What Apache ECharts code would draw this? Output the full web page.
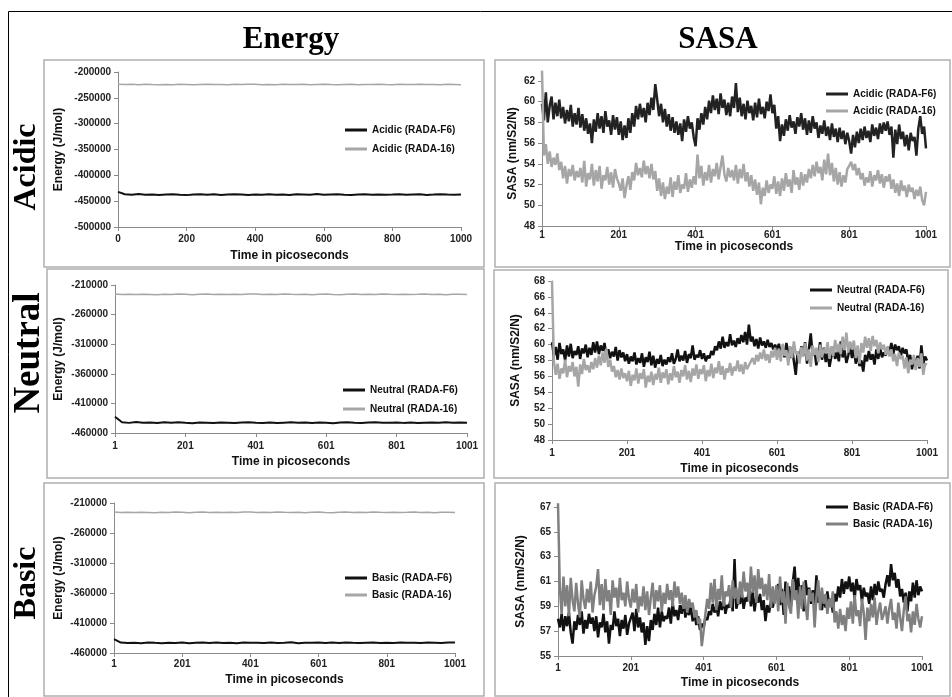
<!DOCTYPE html>
<html><head><meta charset="utf-8">
<script src="https://cdn.jsdelivr.net/npm/echarts@6/dist/echarts.min.js"></script>
<style>html,body{margin:0;padding:0;background:#fff}#c{width:952px;height:697px}</style>
</head><body><div id="c"></div>
<script>
// ---------- DATA ----------
const panelTitles = ['Energy', 'SASA'];
const rowLabels = ['Acidic', 'Neutral', 'Basic'];
const xName = 'Time in picoseconds';
const energyName = 'Energy (J/mol)';
const sasaName = 'SASA (nm/S2/N)';
const legendNames = {
  acidic: ['Acidic (RADA-F6)', 'Acidic (RADA-16)'],
  neutral: ['Neutral (RADA-F6)', 'Neutral (RADA-16)'],
  basic: ['Basic (RADA-F6)', 'Basic (RADA-16)']
};
const energyStep = 20, sasaStep = 5;
const acidicEnergyStart = 0, otherStart = 1;

const energyAcidicF6 = [-432000,-436500,-437800,-436200,-437400,-436900,-438100,-437000,-436600,-437600,-438300,-437200,-436800,-437500,-436400,-437900,-437100,-436700,-437300,-438000,-436900,-437400,-436500,-437700,-437200,-438200,-436800,-437000,-437600,-436300,-437800,-437100,-436600,-437500,-438000,-437000,-436700,-437400,-436900,-437800,-437200,-436500,-437600,-437100,-436800,-437900,-437300,-436400,-437000,-437500,-436900];
const energyAcidic16 = [-223500,-224200,-223800,-224600,-223900,-224400,-224800,-224100,-224500,-223700,-224300,-224900,-224000,-223600,-224400,-224200,-224700,-223900,-224300,-223500,-223800,-224500,-224100,-224600,-223700,-224200,-224400,-223900,-224700,-224000,-223600,-224300,-224800,-224100,-223800,-224500,-224000,-224400,-223700,-224200,-224600,-223900,-224300,-224000,-223500,-224400,-224100,-224700,-223900,-224200,-224500];
const energyNeutralF6 = [-432500,-441800,-442900,-441600,-442700,-442300,-443100,-442000,-442600,-441900,-442800,-443400,-442200,-442500,-443000,-442100,-442700,-443300,-442400,-441800,-442600,-442900,-442200,-443200,-442500,-441900,-442800,-442300,-443000,-442100,-442600,-443400,-442400,-442000,-442700,-443100,-442300,-441700,-442500,-442800,-442100,-442900,-442400,-443000,-442600,-442200,-442800,-441900,-442500,-442300,-442700];
const energyNeutral16 = [-225300,-225900,-225500,-226200,-225600,-226000,-226400,-225700,-226100,-225400,-225800,-226300,-225600,-225200,-225900,-225700,-226200,-225500,-225900,-225100,-225400,-226000,-225600,-226100,-225300,-225800,-226000,-225500,-226300,-225600,-225200,-225900,-226400,-225700,-225400,-226100,-225600,-226000,-225300,-225800,-226200,-225500,-225900,-225600,-225100,-226000,-225700,-226300,-225500,-225800,-226100];
const energyBasicF6 = [-437000,-442600,-443400,-442800,-443700,-442500,-443100,-443600,-442900,-443300,-442400,-443800,-443000,-442700,-443500,-442600,-443200,-442900,-443700,-442400,-443100,-442800,-443400,-442500,-443300,-443000,-442200,-443600,-442900,-443100,-442600,-443500,-442700,-443300,-442500,-443000,-443400,-442800,-442300,-443200,-442900,-443500,-442600,-443100,-442800,-443400,-442500,-442900,-443300,-442400,-442700];
const energyBasic16 = [-225100,-225700,-225300,-226000,-225400,-225800,-226200,-225500,-225900,-225200,-225600,-226100,-225400,-225000,-225700,-225500,-226000,-225300,-225700,-224900,-225200,-225800,-225400,-225900,-225100,-225600,-225800,-225300,-226100,-225400,-225000,-225700,-226200,-225500,-225200,-225900,-225400,-225800,-225100,-225600,-226000,-225300,-225700,-225400,-224900,-225800,-225500,-226100,-225300,-225600,-225900];

const sasaAcidicF6 = [
59.8,58.2,60.9,58.0,59.6,60.5,58.3,59.9,58.6,60.2,58.4,59.5,57.9,59.2,58.1,59.7,57.6,58.9,57.8,59.4,
57.5,58.8,57.2,58.4,56.9,57.9,56.0,58.3,57.1,58.9,57.4,58.6,57.0,59.1,57.6,58.2,56.8,58.7,57.3,58.5,
56.8,58.1,56.3,57.7,56.5,58.4,57.0,58.9,57.6,59.6,58.3,59.8,58.5,59.4,58.0,59.9,58.7,60.4,59.2,61.7,
60.2,58.6,59.8,58.0,59.3,57.6,58.8,57.2,58.5,57.0,58.1,56.8,57.9,56.2,58.3,57.1,58.6,57.4,58.0,56.6,
55.7,58.4,57.3,58.9,57.8,59.5,58.3,60.1,58.9,60.6,59.2,60.3,58.8,60.8,59.4,60.2,58.7,59.9,58.6,60.5,
59.4,61.8,59.0,60.4,58.6,59.8,58.3,60.1,58.9,59.6,58.2,59.9,58.5,60.3,58.8,59.5,58.4,60.0,59.1,60.7,
58.9,59.7,57.4,58.6,56.2,57.8,56.7,58.3,57.2,58.7,57.5,58.1,56.9,58.5,57.6,58.9,57.3,58.4,56.8,58.2,
57.0,58.6,57.4,58.0,56.5,57.7,56.9,58.2,56.7,57.6,56.3,57.9,56.6,57.4,56.1,57.5,56.4,57.2,55.9,57.0,
56.2,55.0,56.8,55.6,57.1,56.0,57.4,56.3,57.6,56.5,57.2,56.1,57.8,56.7,57.5,56.4,57.9,56.9,58.0,57.2,
58.1,56.8,57.6,54.6,57.3,55.9,57.8,56.4,57.1,55.7,56.8,55.3,57.0,56.2,56.6,54.8,57.4,58.6,56.9,57.6,
55.5];
const sasaAcidic16 = [
63.0,54.8,55.9,54.0,55.2,53.7,54.6,53.9,55.0,53.4,54.2,52.6,53.8,52.1,53.5,52.8,53.9,52.4,53.3,52.7,
53.6,52.2,54.3,51.8,53.1,52.5,54.0,51.9,53.4,52.3,53.8,51.6,52.9,52.4,53.7,52.0,53.2,51.7,53.5,52.6,
52.1,51.4,52.6,50.7,51.9,52.8,51.5,53.2,52.4,54.1,52.9,53.6,52.7,54.3,53.0,53.8,52.6,54.0,52.5,53.3,
51.4,52.6,50.9,52.2,50.6,51.8,51.1,52.7,50.8,52.3,51.5,52.9,51.2,52.0,51.6,53.1,51.3,52.5,51.7,52.8,
52.0,54.9,52.6,53.8,51.9,53.2,52.4,53.9,52.2,53.5,52.8,54.1,52.5,53.7,54.8,53.0,52.3,53.6,52.7,53.4,
52.4,53.9,52.1,53.5,52.6,54.0,52.3,53.2,51.8,52.9,51.4,52.5,51.0,52.2,50.1,51.7,50.9,52.4,51.2,52.0,
51.6,52.8,51.1,52.3,50.9,52.6,51.4,53.1,51.8,52.5,51.2,53.4,52.0,52.7,51.5,53.2,51.9,53.0,52.2,53.5,
52.6,53.9,52.8,54.2,53.1,53.7,52.4,54.4,53.0,55.0,52.9,54.1,52.3,53.6,52.0,53.2,51.8,52.9,52.2,53.5,
53.8,54.2,53.4,54.0,52.9,53.6,52.5,53.1,51.9,52.7,52.2,53.3,51.8,52.9,52.4,53.4,52.1,53.0,51.7,52.8,
52.3,53.0,51.6,52.5,51.2,52.1,50.9,52.4,51.4,51.9,50.8,52.0,51.3,51.7,50.6,51.5,50.9,51.8,50.5,50.0,
51.3];
const sasaNeutralF6 = [
60.3,58.6,59.7,58.1,60.2,58.8,59.4,58.0,59.9,58.5,60.1,58.3,59.2,58.7,59.8,58.2,59.5,58.9,60.0,58.4,
59.6,58.7,60.3,59.0,60.4,58.8,59.9,59.2,60.2,58.6,59.4,58.3,59.1,58.5,59.7,58.0,59.3,58.4,59.0,57.9,
58.8,57.6,58.5,57.9,59.0,57.5,58.3,57.7,58.9,57.2,58.4,57.8,59.1,57.4,58.6,57.1,58.2,57.6,58.7,57.3,
58.1,57.5,58.4,57.8,58.9,57.6,58.2,59.4,57.9,58.6,58.0,59.2,57.7,58.8,58.3,59.9,58.1,58.7,58.4,59.3,
58.2,58.9,57.9,58.6,58.3,59.2,58.7,59.8,59.3,60.4,59.5,61.0,59.6,60.3,59.8,61.3,59.9,60.5,59.7,60.8,
60.1,61.2,60.3,61.6,60.0,62.5,60.4,61.0,59.8,60.7,59.5,60.9,59.9,60.4,59.6,60.6,59.7,60.2,59.4,60.0,
59.3,60.1,58.8,59.7,58.4,60.2,59.0,58.3,59.6,57.9,56.2,59.1,58.0,59.8,58.6,60.3,57.6,59.5,61.4,58.7,
59.2,57.4,58.8,60.3,58.1,59.6,57.8,58.9,57.2,58.5,59.7,58.2,59.0,57.9,60.4,58.4,59.3,57.7,58.6,59.9,
58.3,59.5,57.6,58.9,57.3,58.0,56.6,58.7,57.9,59.2,58.1,58.8,57.5,59.4,58.2,59.6,58.4,59.0,58.6,59.7,
59.1,60.2,58.8,60.0,59.3,59.8,58.5,59.6,58.9,59.4,57.8,58.7,56.9,58.3,57.4,58.6,57.0,59.9,57.6,58.5,
58.0];
const sasaNeutral16 = [
68.0,57.9,56.2,57.6,55.7,57.0,56.4,58.1,55.9,57.3,56.6,57.8,56.0,57.2,54.7,57.5,56.3,58.2,56.8,57.4,
56.5,57.8,56.9,58.3,57.1,58.6,57.4,59.0,57.7,59.5,57.2,58.1,56.6,57.3,55.9,56.8,55.6,57.0,55.8,56.4,
55.4,56.7,54.8,56.2,55.5,57.0,55.1,56.4,55.7,56.9,54.6,56.1,55.3,56.6,54.9,56.3,55.6,57.1,55.2,56.5,
55.8,56.9,55.0,56.4,55.5,57.3,55.9,56.6,55.2,56.8,56.0,57.4,55.6,56.7,55.3,57.0,56.1,57.5,55.7,56.9,
56.3,57.4,55.4,56.8,56.0,57.6,55.8,57.1,56.4,57.9,56.2,57.3,55.6,57.0,56.5,57.7,56.1,57.2,56.7,58.0,
56.6,57.5,56.3,57.8,56.9,57.4,57.2,58.3,57.5,58.7,57.9,59.0,58.2,59.4,58.0,58.8,57.7,59.2,58.4,59.6,
58.1,59.5,57.9,60.1,58.6,59.3,57.4,59.8,58.3,60.4,58.8,59.1,57.6,59.7,58.5,60.2,58.0,59.4,57.2,59.9,
58.7,59.6,57.8,60.0,58.4,59.5,58.9,60.3,58.2,59.8,58.6,60.6,59.1,60.1,58.8,61.0,59.3,61.5,59.0,60.4,
59.4,60.5,58.3,59.9,57.6,60.2,59.0,61.0,59.6,60.8,59.2,61.1,59.8,60.6,58.9,60.3,59.4,60.0,58.7,59.7,
58.5,59.4,57.9,58.8,57.3,59.0,58.2,58.6,57.0,58.4,56.4,58.1,57.5,58.7,56.8,58.3,57.2,58.9,56.2,57.6,
57.5];
const sasaBasicF6 = [
58.0,57.3,58.4,57.0,58.2,57.4,58.5,56.9,56.0,57.8,57.1,58.3,57.5,58.6,56.8,57.9,57.2,58.4,57.6,58.1,
57.0,58.2,56.5,57.7,57.3,58.4,56.9,57.8,56.0,57.5,57.1,58.6,57.4,58.0,56.6,57.9,57.2,58.3,56.7,57.6,
57.6,58.5,57.0,58.8,57.3,58.1,56.9,57.7,55.9,57.4,56.2,57.9,57.1,58.4,57.5,58.9,57.3,58.6,57.8,58.2,
58.0,58.9,57.6,59.3,58.2,58.7,57.9,59.1,58.4,59.5,58.1,58.8,58.3,59.0,57.8,58.5,57.5,58.2,57.1,57.6,
57.3,58.1,57.9,58.6,58.3,59.2,58.5,59.0,58.2,59.4,58.7,59.6,58.4,59.1,58.9,59.8,58.6,62.8,58.8,59.5,
59.2,60.1,58.8,59.7,59.4,60.5,59.0,60.2,58.6,59.8,59.3,60.0,58.7,59.5,57.8,59.1,58.5,59.4,58.9,59.7,
59.6,60.8,59.1,60.4,58.3,61.0,59.5,60.6,59.0,60.9,62.2,59.8,61.3,59.4,60.7,58.6,61.1,59.9,60.5,59.2,
60.3,59.0,61.5,59.3,60.1,58.7,59.8,58.9,60.2,59.1,59.6,58.5,60.0,59.4,60.6,59.7,61.2,60.0,61.0,60.4,
61.4,60.2,60.9,59.6,61.2,60.3,60.7,59.4,60.5,59.8,60.1,59.2,60.6,59.5,60.8,59.9,61.0,60.2,60.4,59.7,
60.8,61.5,60.6,62.4,61.1,61.7,60.5,61.2,59.8,60.4,59.3,60.1,58.6,60.2,59.4,60.9,59.7,61.1,59.9,60.6,
60.2];
const sasaBasic16 = [
67.3,60.5,58.4,61.4,59.0,60.7,58.2,61.3,59.5,58.6,60.9,59.2,58.1,61.1,59.6,58.8,60.4,59.3,61.0,58.5,
59.9,60.6,62.0,59.1,60.8,58.7,61.2,59.4,60.3,58.3,61.1,59.7,60.5,58.9,61.3,59.5,60.1,59.0,61.0,59.6,
58.9,60.4,59.3,60.8,58.5,59.8,59.0,60.6,58.7,60.2,58.3,59.7,60.9,58.8,60.3,59.4,60.7,58.6,60.1,59.2,
60.8,59.5,60.3,59.0,61.0,59.7,60.6,59.2,60.1,58.8,59.9,58.5,59.6,58.9,59.3,58.1,58.7,57.6,58.0,55.8,
57.0,58.4,59.6,58.8,60.9,59.3,61.2,58.7,60.4,59.5,61.5,59.0,60.2,59.8,60.7,58.9,61.1,59.6,60.5,59.2,
61.0,59.7,61.8,60.2,60.9,59.4,62.2,60.1,61.5,59.3,62.0,60.4,61.3,59.8,60.8,59.5,61.6,58.9,60.6,59.2,
60.7,58.6,61.4,59.3,60.2,57.6,60.9,59.0,58.4,61.2,59.5,60.3,58.0,60.6,58.8,61.0,59.1,57.9,60.4,59.4,
60.1,57.3,59.8,61.1,58.7,60.5,59.2,60.0,58.4,59.6,58.9,60.2,57.7,58.6,57.2,58.8,57.5,58.3,57.0,58.9,
58.0,59.4,57.6,59.9,58.2,58.7,57.4,59.6,58.5,56.3,58.9,57.8,59.2,58.1,59.7,57.5,58.6,59.3,57.9,58.4,
59.0,57.6,58.8,59.6,57.9,58.5,57.2,59.3,58.1,57.0,58.7,59.8,57.8,58.4,56.9,58.6,57.5,59.2,58.0,57.3,
58.2];

// ---------- CHART ----------
const FONT = 'Arial, "Liberation Sans", sans-serif';
const SERIF = '"Times New Roman", "Liberation Serif", serif';
const chart = echarts.init(document.getElementById('c'), null, {renderer: 'canvas'});

function pairs(vals, start, step) { return vals.map((v, i) => [start + i * step, v]); }

const grids = [
  {left: 118, top: 72, width: 343, height: 155},
  {left: 542, top: 81, width: 384, height: 145},
  {left: 115, top: 285, width: 352, height: 148},
  {left: 552, top: 281, width: 375, height: 159},
  {left: 114, top: 503, width: 341, height: 150},
  {left: 558, top: 507, width: 364, height: 149}
];
const axisCol = '#8a8a8a';
function xAx(gi, min, max, nameGap, margin) {
  return {
    type: 'value', gridIndex: gi, min: min, max: max, interval: 200,
    name: xName, nameLocation: 'middle', nameGap: nameGap,
    nameTextStyle: {fontFamily: FONT, fontWeight: 'bold', fontSize: 12, color: '#111'},
    axisLine: {show: true, onZero: false, lineStyle: {color: axisCol, width: 1}},
    axisTick: {show: true, length: 4, lineStyle: {color: axisCol}},
    splitLine: {show: false},
    axisLabel: {fontFamily: FONT, fontWeight: 'bold', fontSize: 10, color: '#222', margin: margin, formatter: v => String(v)}
  };
}
function yAx(gi, min, max, interval, name, nameGap) {
  return {
    type: 'value', gridIndex: gi, min: min, max: max, interval: interval,
    name: name, nameLocation: 'middle', nameGap: nameGap,
    nameTextStyle: {fontFamily: FONT, fontWeight: 'bold', fontSize: 12, color: '#111'},
    axisLine: {show: true, lineStyle: {color: axisCol, width: 1}},
    axisTick: {show: true, length: 4, lineStyle: {color: axisCol}},
    splitLine: {show: false},
    axisLabel: {fontFamily: FONT, fontWeight: 'bold', fontSize: 10, color: '#222', margin: 7, formatter: v => String(v)}
  };
}
function line(name, gi, data, color, width, clip) {
  return {
    type: 'line', name: name, xAxisIndex: gi, yAxisIndex: gi, data: data,
    showSymbol: false, symbol: 'none', animation: false, clip: clip !== false,
    lineStyle: {color: color, width: width}, itemStyle: {color: color}
  };
}
function legend(names, colors, left, top, gap) {
  return {
    orient: 'vertical', left: left, top: top, itemGap: gap, icon: 'rect',
    itemWidth: 22, itemHeight: 3, selectedMode: false,
    textStyle: {fontFamily: FONT, fontWeight: 'bold', fontSize: 10, color: '#111', lineHeight: 12},
    data: names.map((n, i) => ({name: n, itemStyle: {color: colors[i]}}))
  };
}

const BLACK = '#111111', GRAY = '#a6a6a6', DGRAY = '#808080';

const option = {
  animation: false,
  backgroundColor: '#ffffff',
  grid: grids,
  xAxis: [
    xAx(0, 0, 1000, 23, 7),
    xAx(1, 1, 1001, 15, 4),
    xAx(2, 1, 1001, 23, 8),
    xAx(3, 1, 1001, 23, 8),
    xAx(4, 1, 1001, 21, 6),
    xAx(5, 1, 1001, 21, 7)
  ],
  yAxis: [
    yAx(0, -500000, -200000, 50000, energyName, 53),
    yAx(1, 48, 62, 2, sasaName, 23),
    yAx(2, -460000, -210000, 50000, energyName, 50),
    yAx(3, 48, 68, 2, sasaName, 30),
    yAx(4, -460000, -210000, 50000, energyName, 49),
    yAx(5, 55, 67, 2, sasaName, 31)
  ],
  legend: [
    legend(legendNames.acidic, [BLACK, GRAY], 340, 119, 7),
    legend(legendNames.acidic, ['#222222', GRAY], 821, 83, 5),
    legend(legendNames.neutral, [BLACK, GRAY], 338, 379, 7),
    legend(legendNames.neutral, [BLACK, GRAY], 805, 279, 6),
    legend(legendNames.basic, [BLACK, GRAY], 340, 567, 5),
    legend(legendNames.basic, [BLACK, DGRAY], 821, 496, 5)
  ],
  series: [
    line(legendNames.acidic[0], 0, pairs(energyAcidicF6, acidicEnergyStart, energyStep), BLACK, 2),
    line(legendNames.acidic[1], 0, pairs(energyAcidic16, acidicEnergyStart, energyStep), GRAY, 1.5),
    line(legendNames.acidic[0], 1, pairs(sasaAcidicF6, otherStart, sasaStep), '#222222', 2.5, false),
    line(legendNames.acidic[1], 1, pairs(sasaAcidic16, otherStart, sasaStep), GRAY, 2.5, false),
    line(legendNames.neutral[0], 2, pairs(energyNeutralF6, otherStart, energyStep), BLACK, 2),
    line(legendNames.neutral[1], 2, pairs(energyNeutral16, otherStart, energyStep), GRAY, 1.5),
    line(legendNames.neutral[0], 3, pairs(sasaNeutralF6, otherStart, sasaStep), BLACK, 2.5, false),
    line(legendNames.neutral[1], 3, pairs(sasaNeutral16, otherStart, sasaStep), GRAY, 2.5, false),
    line(legendNames.basic[0], 4, pairs(energyBasicF6, otherStart, energyStep), BLACK, 2),
    line(legendNames.basic[1], 4, pairs(energyBasic16, otherStart, energyStep), GRAY, 1.5),
    line(legendNames.basic[0], 5, pairs(sasaBasicF6, otherStart, sasaStep), BLACK, 2.5, false),
    line(legendNames.basic[1], 5, pairs(sasaBasic16, otherStart, sasaStep), DGRAY, 2.5, false)
  ],
  graphic: [
    {type: 'rect', shape: {x: 8.5, y: 11.5, width: 1000, height: 1000}, style: {fill: 'none', stroke: '#000', lineWidth: 1}, silent: true, z: -10},
    {type: 'rect', shape: {x: 44, y: 60, width: 440, height: 207}, style: {fill: 'none', stroke: '#b0b0b0', lineWidth: 1.5}, silent: true},
    {type: 'rect', shape: {x: 495, y: 60, width: 455, height: 207}, style: {fill: 'none', stroke: '#b0b0b0', lineWidth: 1.5}, silent: true},
    {type: 'rect', shape: {x: 47, y: 269, width: 437, height: 209}, style: {fill: 'none', stroke: '#b0b0b0', lineWidth: 1.5}, silent: true},
    {type: 'rect', shape: {x: 494, y: 270, width: 454, height: 208}, style: {fill: 'none', stroke: '#b0b0b0', lineWidth: 1.5}, silent: true},
    {type: 'rect', shape: {x: 44, y: 483, width: 440, height: 213}, style: {fill: 'none', stroke: '#b0b0b0', lineWidth: 1.5}, silent: true},
    {type: 'rect', shape: {x: 495, y: 483, width: 455, height: 213}, style: {fill: 'none', stroke: '#b0b0b0', lineWidth: 1.5}, silent: true},
    {type: 'text', x: 291, y: 40, style: {text: panelTitles[0], font: 'bold 31px ' + SERIF, fill: '#000', align: 'center', verticalAlign: 'middle'}, silent: true},
    {type: 'text', x: 718, y: 40, style: {text: panelTitles[1], font: 'bold 31px ' + SERIF, fill: '#000', align: 'center', verticalAlign: 'middle'}, silent: true},
    {type: 'text', x: 27, y: 167, rotation: Math.PI / 2, style: {text: rowLabels[0], font: 'bold 32px ' + SERIF, fill: '#000', align: 'center', verticalAlign: 'middle'}, silent: true},
    {type: 'text', x: 29, y: 353, rotation: Math.PI / 2, style: {text: rowLabels[1], font: 'bold 37px ' + SERIF, fill: '#000', align: 'center', verticalAlign: 'middle'}, silent: true},
    {type: 'text', x: 27, y: 583, rotation: Math.PI / 2, style: {text: rowLabels[2], font: 'bold 32px ' + SERIF, fill: '#000', align: 'center', verticalAlign: 'middle'}, silent: true}
  ]
};
chart.setOption(option);
</script>
</body></html>
